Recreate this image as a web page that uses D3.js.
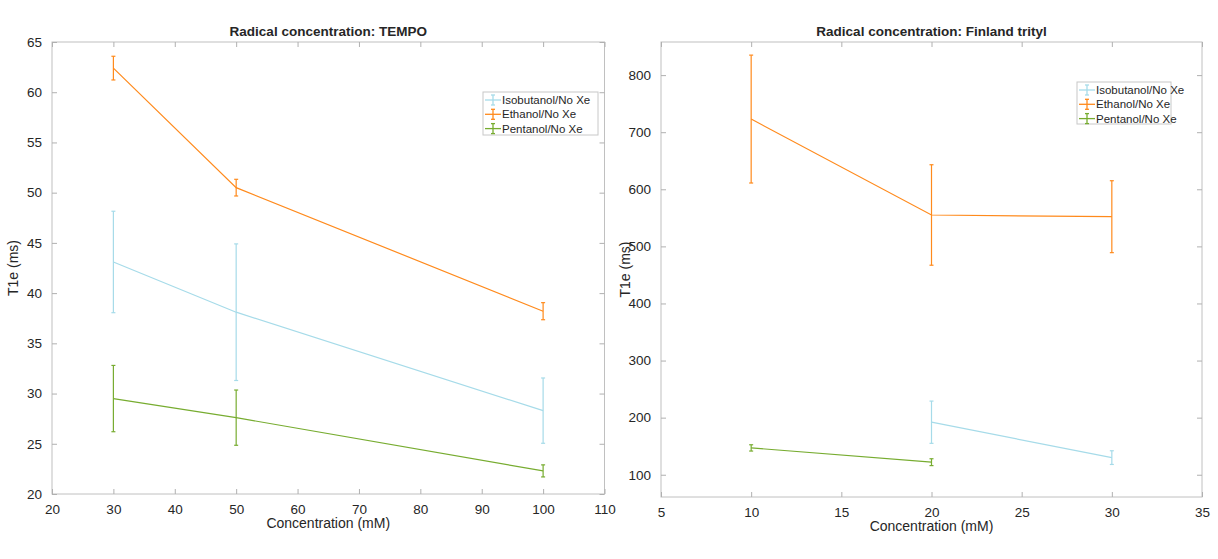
<!DOCTYPE html>
<html>
<head>
<meta charset="UTF-8">
<script src="https://d3js.org/d3.v7.min.js"></script>
<style>
  body { margin: 0; background: #fff; }
  text { font-family: "Liberation Sans", Arial, sans-serif; fill: #262626; }
  .title { font-size: 13.5px; font-weight: bold; text-anchor: middle; }
  .axlabel { font-size: 14px; text-anchor: middle; }
  .tick text { font-size: 13.5px; }
  .legend text { font-size: 11.5px; }
</style>
</head>
<body>
<svg width="1218" height="559"></svg>
<script>
// ---- data ----
const seriesNames = ["Isobutanol/No Xe", "Ethanol/No Xe", "Pentanol/No Xe"];
const seriesColors = ["#a6dbe9", "#ff8a1c", "#77ac30"];

// TEMPO panel
const tempoX = [30, 50, 100];
const tempoIso = [43.1, 38.1, 28.3];
const tempoIsoErr = [5.05, 6.8, 3.25];
const tempoEth = [62.4, 50.5, 38.2];
const tempoEthErr = [1.18, 0.83, 0.85];
const tempoPen = [29.5, 27.6, 22.3];
const tempoPenErr = [3.3, 2.75, 0.6];

// Finland trityl panel
const tritylIsoX = [20, 30];
const tritylIso = [192, 130];
const tritylIsoErr = [37, 12];
const tritylEthX = [10, 20, 30];
const tritylEth = [723, 555, 552];
const tritylEthErr = [112, 88, 63];
const tritylPenX = [10, 20];
const tritylPen = [147, 122];
const tritylPenErr = [5.5, 6];

const xTicksTempo = [20, 30, 40, 50, 60, 70, 80, 90, 100, 110];
const yTicksTempo = [20, 25, 30, 35, 40, 45, 50, 55, 60, 65];
const xTicksTrityl = [5, 10, 15, 20, 25, 30, 35];
const yTicksTrityl = [100, 200, 300, 400, 500, 600, 700, 800];

function pts(xs, ys, es) {
  return xs.map((x, i) => ({ x: x, y: ys[i], e: es[i] }));
}

const svg = d3.select("svg");

function panel(opt) {
  const g = svg.append("g");
  const x = d3.scaleLinear().domain(opt.xDomain).range([opt.left, opt.right]);
  const y = d3.scaleLinear().domain(opt.yDomain).range([opt.bottom, opt.top]);
  const tl = 5;

  // box
  g.append("rect")
    .attr("x", opt.left).attr("y", opt.top)
    .attr("width", opt.right - opt.left).attr("height", opt.bottom - opt.top)
    .attr("fill", "none").attr("stroke", "#c0c0c0").attr("stroke-width", 1);

  // axes (inward ticks on all four sides)
  const ax = g.append("g").attr("transform", `translate(0,${opt.bottom})`)
    .call(d3.axisBottom(x).tickValues(opt.xTicks).tickSize(-tl).tickPadding(10).tickFormat(d3.format("d")));
  const axTop = g.append("g").attr("transform", `translate(0,${opt.top})`)
    .call(d3.axisTop(x).tickValues(opt.xTicks).tickSize(-tl).tickFormat(""));
  const ay = g.append("g").attr("transform", `translate(${opt.left},0)`)
    .call(d3.axisLeft(y).tickValues(opt.yTicks).tickSize(-tl).tickPadding(10).tickFormat(d3.format("d")));
  const ayR = g.append("g").attr("transform", `translate(${opt.right},0)`)
    .call(d3.axisRight(y).tickValues(opt.yTicks).tickSize(-tl).tickFormat(""));
  [ax, axTop, ay, ayR].forEach(a => {
    a.select(".domain").remove();
    a.selectAll(".tick line").attr("stroke", "#b0b0b0");
  });
  ax.selectAll(".tick text").attr("fill", "#262626");
  ay.selectAll(".tick text").attr("fill", "#262626");

  // series
  opt.series.forEach((s, i) => {
    const col = seriesColors[s.idx];
    const sg = g.append("g");
    sg.append("path").datum(s.data)
      .attr("fill", "none").attr("stroke", col).attr("stroke-width", 1.2)
      .attr("d", d3.line().x(d => x(d.x)).y(d => y(d.y)));
    const eb = sg.selectAll(".eb").data(s.data).enter().append("g");
    eb.append("line")
      .attr("x1", d => x(d.x)).attr("x2", d => x(d.x))
      .attr("y1", d => y(d.y - d.e)).attr("y2", d => y(d.y + d.e))
      .attr("stroke", col).attr("stroke-width", 1.2);
    [-1, 1].forEach(sgn => {
      eb.append("line")
        .attr("x1", d => x(d.x) - 2).attr("x2", d => x(d.x) + 2)
        .attr("y1", d => y(d.y + sgn * d.e)).attr("y2", d => y(d.y + sgn * d.e))
        .attr("stroke", col).attr("stroke-width", 1.2);
    });
  });

  // title & labels
  g.append("text").attr("class", "title")
    .attr("x", (opt.left + opt.right) / 2).attr("y", opt.top - 6).text(opt.title);
  g.append("text").attr("class", "axlabel")
    .attr("x", (opt.left + opt.right) / 2).attr("y", opt.bottom + 34).text("Concentration (mM)");
  g.append("text").attr("class", "axlabel")
    .attr("transform", `translate(${opt.ylabX},${(opt.top + opt.bottom) / 2}) rotate(-90)`)
    .text("T1e (ms)");

  // legend
  const lg = g.append("g").attr("class", "legend");
  lg.append("rect")
    .attr("x", opt.leg.x).attr("y", opt.leg.y)
    .attr("width", opt.leg.w).attr("height", opt.leg.h)
    .attr("fill", "#fff").attr("stroke", "#c8c8c8").attr("stroke-width", 1);
  seriesNames.forEach((name, i) => {
    const cy = opt.leg.y + 8 + i * 14.3;
    const x0 = opt.leg.x + 2, x1 = opt.leg.x + 18, xm = (x0 + x1) / 2;
    const col = seriesColors[i];
    lg.append("line").attr("x1", x0).attr("x2", x1).attr("y1", cy).attr("y2", cy)
      .attr("stroke", col).attr("stroke-width", 1.3);
    lg.append("line").attr("x1", xm).attr("x2", xm).attr("y1", cy - 5).attr("y2", cy + 5)
      .attr("stroke", col).attr("stroke-width", 1.3);
    [-5, 5].forEach(o => lg.append("line").attr("x1", xm - 2).attr("x2", xm + 2)
      .attr("y1", cy + o).attr("y2", cy + o).attr("stroke", col).attr("stroke-width", 1.3));
    lg.append("text").attr("x", x1 + 1).attr("y", cy + 4).text(name);
  });
}

panel({
  left: 52, right: 604.5, top: 42, bottom: 494,
  xDomain: [20, 110], yDomain: [20, 65],
  xTicks: xTicksTempo, yTicks: yTicksTempo,
  title: "Radical concentration: TEMPO",
  ylabX: 18,
  leg: { x: 483, y: 92, w: 115, h: 43 },
  series: [
    { idx: 0, data: pts(tempoX, tempoIso, tempoIsoErr) },
    { idx: 1, data: pts(tempoX, tempoEth, tempoEthErr) },
    { idx: 2, data: pts(tempoX, tempoPen, tempoPenErr) }
  ]
});

panel({
  left: 661, right: 1202, top: 42, bottom: 497,
  xDomain: [5, 35], yDomain: [61, 858],
  xTicks: xTicksTrityl, yTicks: yTicksTrityl,
  title: "Radical concentration: Finland trityl",
  ylabX: 630,
  leg: { x: 1077, y: 82, w: 94, h: 42 },
  series: [
    { idx: 0, data: pts(tritylIsoX, tritylIso, tritylIsoErr) },
    { idx: 1, data: pts(tritylEthX, tritylEth, tritylEthErr) },
    { idx: 2, data: pts(tritylPenX, tritylPen, tritylPenErr) }
  ]
});
</script>
</body>
</html>
